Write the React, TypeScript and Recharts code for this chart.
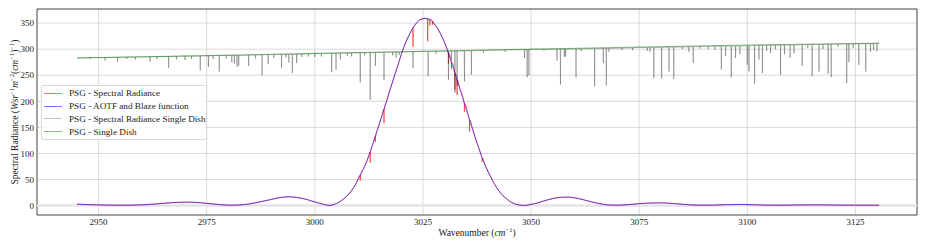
import { LineChart, Line, XAxis, YAxis, CartesianGrid, ReferenceLine, ReferenceArea } from 'recharts';

const wnTicks = [2950, 2975, 3000, 3025, 3050, 3075, 3100, 3125];
const radTicks = [0, 50, 100, 150, 200, 250, 300, 350];

// AOTF x blaze envelope, [wavenumber, radiance]
const aotf: [number, number][] = [
    [2945, 2.7], [2948, 1.8], [2951, 1.2], [2954, 0.8], [2957, 0.8], [2960, 1.5], [2963, 3], [2966, 5],
    [2969, 6.5], [2971, 6.7], [2973.5, 5.5], [2976, 3.5], [2978.5, 1.5], [2980.5, 0.8], [2982.5, 1.2],
    [2985, 3.5], [2987.5, 7.5], [2990, 12], [2992, 15.5], [2994, 16.8], [2996, 15.5], [2998, 12],
    [3000, 7], [3001.5, 3.5], [3003.5, 0.5], [3004.5, 2.5], [3005.5, 6], [3006.5, 12], [3007.5, 19],
    [3008.5, 29], [3009.5, 42], [3010.5, 58], [3011.5, 75], [3012.5, 96], [3013.5, 120], [3014.5, 146],
    [3015.5, 172], [3016.5, 198], [3017.5, 225], [3018.5, 251], [3019.5, 277], [3020.5, 302],
    [3021.5, 322], [3022.5, 338], [3023.5, 350], [3024.5, 357], [3025.5, 359], [3026.5, 357],
    [3027.5, 350], [3028.5, 338], [3029.5, 322], [3030.5, 302], [3031.5, 277], [3032.5, 251],
    [3033.5, 225], [3034.5, 198], [3035.5, 172], [3036.5, 146], [3037.5, 120], [3038.5, 96],
    [3039.5, 75], [3040.5, 58], [3041.5, 42], [3042.5, 29], [3043.5, 19], [3044.5, 12], [3045.5, 6],
    [3046.5, 2.5], [3047.5, 1], [3048.5, 0.3], [3049.5, 1.5], [3051, 4], [3053, 9], [3055, 13.5],
    [3057, 16], [3058.5, 16.3], [3060, 15], [3062, 11.5], [3064, 7], [3066, 3.5], [3068, 1.2],
    [3070, 0.8], [3072, 1.5], [3074, 3], [3077, 4.8], [3080, 5.3], [3083, 4], [3086, 2], [3089, 0.8],
    [3092, 0.9], [3095, 1.8], [3098, 2.3], [3101, 1.8], [3104, 1], [3108, 0.8], [3112, 1.3],
    [3116, 1.5], [3120, 1.1], [3125, 0.8], [3130.5, 0.8],
];

// absorption lines seen through the AOTF, [wavenumber, top, bottom]
const psgDips: [number, number, number][] = [
    [3010.5, 58, 48], [3012.8, 103, 82], [3014.0, 133, 122], [3016.0, 185, 158], [3022.7, 341, 305],
    [3026.1, 358, 315], [3026.6, 357, 345], [3027.2, 354, 347], [3030.9, 292, 272], [3031.6, 275, 262],
    [3032.4, 254, 222], [3032.9, 241, 212], [3034.6, 196, 180], [3035.8, 164, 142], [3038.7, 91, 84],
];

const dishContinuum: [number, number][] = [
    [2945, 283], [2975, 287.5], [3000, 292], [3025, 296], [3050, 300], [3075, 304], [3100, 308], [3130.5, 311.5],
];

// single dish absorption lines, [wavenumber, top, bottom]
const dishLines: [number, number, number][] = [
    [2948.0, 284, 281], [2951.5, 284, 278], [2954.4, 284.5, 276], [2956.5, 285, 281], [2958.5, 285, 280],
    [2961.9, 285.5, 276], [2963.5, 286, 281], [2966.2, 286, 264], [2968.0, 286.5, 280], [2970.0, 287, 279],
    [2971.5, 287, 281], [2973.5, 287, 259], [2975.4, 287.5, 266], [2976.5, 287.5, 281], [2977.9, 288, 257],
    [2979.5, 288, 282], [2980.8, 288, 275], [2981.4, 288, 272], [2982.0, 288, 266], [2982.4, 288, 268],
    [2984.7, 288.5, 268], [2986.3, 289, 282], [2987.8, 289, 250], [2989.2, 289.5, 271], [2990.5, 289.5, 283],
    [2992.3, 290, 264], [2993.3, 290, 284], [2994.0, 290, 274], [2994.8, 290, 254], [2995.8, 290.5, 273],
    [2997.0, 290.5, 285], [2998.5, 291, 286], [3000.0, 291.5, 285], [3001.5, 291.5, 286], [3003.9, 292, 256],
    [3004.9, 292, 260], [3005.9, 292, 280], [3007.5, 292.5, 287], [3008.5, 292.5, 286], [3010.5, 293, 236],
    [3011.5, 293, 288], [3012.8, 293.5, 203], [3014.0, 293.5, 268], [3016.0, 294, 241], [3018.0, 294.5, 288],
    [3018.8, 294.5, 284], [3019.5, 294.5, 289], [3022.7, 295, 264], [3026.2, 295.5, 248], [3028.0, 296, 291],
    [3030.9, 296, 241], [3031.6, 296, 280], [3032.4, 296.5, 216], [3032.9, 296.5, 230], [3034.6, 296.5, 238],
    [3036.2, 297, 251], [3039.0, 297.5, 293], [3044.0, 298.5, 295], [3048.5, 299, 283], [3049.1, 299, 246],
    [3049.5, 299, 250], [3053.0, 299.5, 297], [3056.0, 300, 278], [3056.8, 300, 232], [3057.7, 300, 285],
    [3058.0, 300, 286], [3060.4, 300.5, 246], [3061.6, 300.5, 296], [3064.7, 301, 229], [3066.7, 301.5, 273],
    [3067.4, 301.5, 230], [3068.0, 301.5, 295], [3071.0, 302, 298], [3073.5, 302.5, 298], [3076.9, 303, 297],
    [3077.5, 303, 295], [3078.4, 303, 245], [3080.2, 303.5, 244], [3081.9, 303.5, 257], [3083.0, 304, 243],
    [3085.0, 304, 300], [3086.5, 304.5, 295], [3087.5, 304.5, 273], [3089.0, 305, 301], [3091.0, 305, 300],
    [3092.5, 305.5, 299], [3094.0, 305.5, 261], [3095.0, 305.5, 287], [3096.3, 306, 246], [3097.3, 306, 283],
    [3098.3, 306, 290], [3100.0, 306.5, 270], [3100.4, 306.5, 257], [3101.7, 307, 234], [3102.7, 307, 280],
    [3103.5, 307, 254], [3104.5, 307, 297], [3105.4, 307.5, 292], [3106.5, 307.5, 300], [3107.7, 307.5, 251],
    [3108.6, 308, 290], [3109.9, 308, 283], [3110.8, 308, 292], [3112.7, 308.5, 268], [3114.0, 308.5, 302],
    [3115.0, 309, 248], [3116.6, 309, 257], [3117.5, 309, 300], [3118.7, 309.5, 253], [3119.4, 309.5, 246],
    [3121.0, 309.5, 304], [3123.0, 310, 235], [3123.5, 310, 275], [3124.5, 310, 302], [3125.8, 310.5, 270],
    [3127.4, 310.5, 257], [3128.5, 311, 295], [3129.2, 311, 298], [3130.0, 311, 296],
];

const seriesNames = [
    'PSG - Spectral Radiance',
    'PSG - AOTF and Blaze function',
    'PSG - Spectral Radiance Single Dish',
    'PSG - Single Dish',
];
const seriesColors = ['#ff0000', '#0000ff', '#000000', '#008000'];
const seriesAlpha = [0.55, 0.55, 0.3, 0.5];

type Pt = { x: number; y: number };
const toPts = (rows: [number, number][]): Pt[] => rows.map(([x, y]) => ({ x, y }));
const spikes = (rows: [number, number, number][]): Pt[] =>
    rows.flatMap(([x, top, bottom]) => [
        { x: x - 0.05, y: top },
        { x, y: bottom },
        { x: x + 0.05, y: top },
    ]);
const mergeWith = (base: Pt[], lines: [number, number, number][]): Pt[] =>
    [...base.filter((p) => !lines.some((l) => Math.abs(l[0] - p.x) < 0.12)), ...spikes(lines)].sort(
        (a, b) => a.x - b.x
    );

const aotfData = toPts(aotf);
const psgData = mergeWith(aotfData, psgDips);
const continuumData = toPts(dishContinuum);
const dishData = mergeWith(continuumData, dishLines);

const FONT = '"Liberation Serif", "Times New Roman", serif';
const X_DOMAIN: [number, number] = [2935.75, 3139.25];
const Y_DOMAIN: [number, number] = [-18, 377];

function YLabel() {
    return (
        <text
            transform="translate(18, 112) rotate(-90)"
            textAnchor="middle"
            fontFamily={FONT}
            fontSize={9.5}
            fill="#222"
        >
            <tspan>Spectral Radiance (</tspan>
            <tspan fontStyle="italic">Wsr</tspan>
            <tspan fontSize={6.5} dy={-4}>−1</tspan>
            <tspan fontStyle="italic" dy={4}>m</tspan>
            <tspan fontSize={6.5} dy={-4}>−2</tspan>
            <tspan dy={4}>(</tspan>
            <tspan fontStyle="italic">cm</tspan>
            <tspan fontSize={6.5} dy={-4}>−1</tspan>
            <tspan dy={4}>)</tspan>
            <tspan fontSize={6.5} dy={-4}>−1</tspan>
            <tspan dy={4}>)</tspan>
        </text>
    );
}

function XLabel() {
    return (
        <text x={477} y={235.5} textAnchor="middle" fontFamily={FONT} fontSize={9.5} fill="#222">
            <tspan>Wavenumber (</tspan>
            <tspan fontStyle="italic">cm</tspan>
            <tspan fontSize={6.5} dy={-4}>−1</tspan>
            <tspan dy={4}>)</tspan>
        </text>
    );
}

export default function App() {
    return (
        <div style={{ position: 'absolute', left: 0, top: 0, width: 926, height: 247, background: '#fff' }}>
            <LineChart width={926} height={247} margin={{ top: 9, right: 9, bottom: 0, left: 7 }}>
                <CartesianGrid stroke="#d0d0d0" strokeWidth={0.8} />
                <ReferenceLine y={0} stroke="#e4e4e4" strokeWidth={2.5} />
                <XAxis
                    dataKey="x"
                    type="number"
                    domain={X_DOMAIN}
                    allowDataOverflow
                    ticks={wnTicks}
                    height={32}
                    axisLine={false}
                    tickLine={false}
                    tickSize={0}
                    tickMargin={4}
                    tick={{ fontSize: 9, fontFamily: FONT, fill: '#222' }}
                    label={{ content: () => <XLabel /> }}
                />
                <YAxis
                    type="number"
                    domain={Y_DOMAIN}
                    allowDataOverflow
                    ticks={radTicks}
                    width={30}
                    axisLine={false}
                    tickLine={false}
                    tickSize={0}
                    tickMargin={3}
                    tick={{ fontSize: 9, fontFamily: FONT, fill: '#222' }}
                    label={{ content: () => <YLabel /> }}
                />
                <Line
                    data={psgData}
                    dataKey="y"
                    name={seriesNames[0]}
                    type="monotone"
                    stroke={seriesColors[0]}
                    strokeOpacity={seriesAlpha[0]}
                    strokeWidth={1}
                    dot={false}
                    activeDot={false}
                    isAnimationActive={false}
                />
                <Line
                    data={aotfData}
                    dataKey="y"
                    name={seriesNames[1]}
                    type="monotone"
                    stroke={seriesColors[1]}
                    strokeOpacity={seriesAlpha[1]}
                    strokeWidth={1}
                    dot={false}
                    activeDot={false}
                    isAnimationActive={false}
                />
                <Line
                    data={dishData}
                    dataKey="y"
                    name={seriesNames[2]}
                    type="linear"
                    stroke={seriesColors[2]}
                    strokeOpacity={seriesAlpha[2]}
                    strokeWidth={0.9}
                    dot={false}
                    activeDot={false}
                    isAnimationActive={false}
                />
                <Line
                    data={continuumData}
                    dataKey="y"
                    name={seriesNames[3]}
                    type="linear"
                    stroke={seriesColors[3]}
                    strokeOpacity={seriesAlpha[3]}
                    strokeWidth={1}
                    dot={false}
                    activeDot={false}
                    isAnimationActive={false}
                />
                <ReferenceArea
                    x1={X_DOMAIN[0]}
                    x2={X_DOMAIN[1]}
                    y1={Y_DOMAIN[0]}
                    y2={Y_DOMAIN[1]}
                    fill="none"
                    fillOpacity={0}
                    stroke="#555"
                    strokeWidth={1}
                />
            </LineChart>
            <div
                style={{
                    position: 'absolute',
                    left: 41,
                    top: 85,
                    width: 164,
                    padding: '1px 0',
                    background: 'rgba(255,255,255,0.85)',
                    border: '1px solid #d8d8d8',
                    borderRadius: 2,
                    fontFamily: FONT,
                    fontSize: 9.2,
                    color: '#222',
                }}
            >
                {seriesNames.map((name, i) => (
                    <div key={name} style={{ display: 'flex', alignItems: 'center', height: 12.8, whiteSpace: 'nowrap' }}>
                        <span
                            style={{
                                display: 'inline-block',
                                width: 18,
                                height: 1,
                                marginLeft: 2,
                                marginRight: 7,
                                background: seriesColors[i],
                                opacity: seriesAlpha[i] * (i === 2 ? 0.8 : 1),
                            }}
                        />
                        <span>{name}</span>
                    </div>
                ))}
            </div>
        </div>
    );
}
